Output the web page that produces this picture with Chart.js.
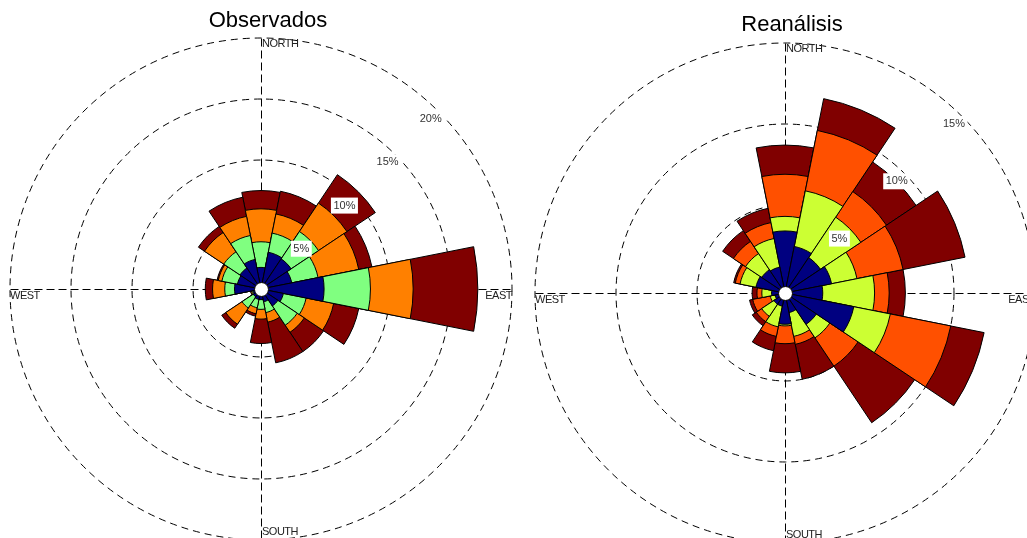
<!DOCTYPE html>
<html>
<head>
    <meta charset="utf-8">
    <title>Rosas de viento</title>
    <script src="https://cdn.jsdelivr.net/npm/chart.js"></script>
    <style>
        html, body {
            margin: 0;
            padding: 0;
            background: #fff;
            overflow: hidden;
        }
        .rose-container {
            position: absolute;
            top: 0;
        }
        #roseObs { left: 0; width: 522px; height: 540px; }
        #roseRea { left: 520px; width: 520px; height: 543px; }
    </style>
</head>
<body>
    <div class="rose-container" id="roseObs"><canvas id="obsChart"></canvas></div>
    <div class="rose-container" id="roseRea"><canvas id="reaChart"></canvas></div>

    <script>
        const directions = ['N', 'NNE', 'NE', 'ENE', 'E', 'ESE', 'SE', 'SSE',
                            'S', 'SSW', 'SW', 'WSW', 'W', 'WNW', 'NW', 'NNW'];
        const speedClasses = ['Clase 1', 'Clase 2', 'Clase 3', 'Clase 4'];

        // Observados: frecuencia (%) de cada clase de velocidad por direccion
        const obsClass1 = [1.2, 2.5, 2.4, 2.0, 4.6, 1.3, 1.1, 0.5, 0.3, 0.3, 0.2, 0.1, 1.6, 1.4, 1.5, 1.9];
        const obsClass2 = [2.1, 1.6, 2.7, 2.2, 3.8, 1.9, 1.9, 0.9, 0.8, 0.7, 1.1, 0.1, 0.8, 1.3, 1.6, 2.0];
        const obsClass3 = [2.7, 1.6, 2.8, 3.4, 3.5, 2.3, 0.7, 0.8, 0.8, 0.5, 1.6, 0.1, 1.0, 0.3, 1.9, 1.6];
        const obsClass4 = [1.5, 1.9, 2.8, 1.1, 5.3, 2.1, 1.9, 3.4, 2.0, 0.2, 0.4, 0.0, 0.6, 0.1, 0.6, 1.6];

        // Reanalisis
        const reaClass1 = [3.4, 2.5, 2.2, 2.5, 1.9, 3.9, 1.9, 0.8, 1.5, 0.4, 0.4, 0.2, 0.4, 1.4, 1.3, 1.2];
        const reaClass2 = [0.9, 3.5, 3.0, 1.6, 3.2, 2.3, 1.0, 1.5, 0.1, 1.3, 0.9, 0.3, 0.6, 1.0, 1.2, 1.8];
        const reaClass3 = [2.6, 3.8, 1.9, 2.9, 0.9, 3.8, 2.1, 0.5, 1.1, 0.6, 0.4, 1.1, 0.3, 0.3, 0.9, 1.0];
        const reaClass4 = [1.8, 2.0, 2.2, 3.9, 1.0, 2.1, 4.2, 2.2, 1.8, 0.9, 0.3, 0.2, 0.3, 0.1, 0.8, 0.9];

        const obsRings = [5, 10, 15, 20];
        const reaRings = [5, 10, 15];

        const obsColors = ['#000080', '#80ff80', '#ff8000', '#800000'];
        const reaColors = ['#000080', '#ccff33', '#ff5000', '#800000'];

        // running totals so each class sits on top of the previous ones
        function cumulative(classes) {
            let run = directions.map(() => 0);
            return classes.map(c => (run = run.map((v, i) => v + c[i])));
        }

        const FONT = '"Liberation Sans", Arial, sans-serif';

        // compass cross, calm circle, ring labels and title
        const roseDecor = {
            id: 'roseDecor',
            beforeDatasetsDraw(chart) {
                const r = chart.scales.r;
                const ctx = chart.ctx;
                const R = r.drawingArea;
                const cx = r.xCenter + 0.5, cy = r.yCenter + 0.5;
                ctx.save();
                ctx.strokeStyle = '#000';
                ctx.lineWidth = 1;
                ctx.setLineDash([8, 4]);
                ctx.beginPath();
                ctx.moveTo(cx, cy - R);
                ctx.lineTo(cx, cy + R);
                ctx.moveTo(cx - R, cy);
                ctx.lineTo(cx + R, cy);
                ctx.stroke();
                ctx.restore();
            },
            afterDatasetsDraw(chart, args, opts) {
                const r = chart.scales.r;
                const ctx = chart.ctx;
                const R = r.drawingArea;
                const cx = r.xCenter, cy = r.yCenter;
                ctx.save();

                // calm circle in the middle
                ctx.beginPath();
                ctx.arc(cx + 0.5, cy + 0.5, r.getDistanceFromCenterForValue(0), 0, Math.PI * 2);
                ctx.fillStyle = '#fff';
                ctx.fill();
                ctx.strokeStyle = '#000';
                ctx.lineWidth = 1;
                ctx.stroke();

                // percentage labels along the NE diagonal
                ctx.font = '11px ' + FONT;
                ctx.textAlign = 'center';
                ctx.textBaseline = 'middle';
                r.ticks.forEach(t => {
                    const d = r.getDistanceFromCenterForValue(t.value) - 11;
                    const x = cx + d * Math.SQRT1_2;
                    const y = cy - d * Math.SQRT1_2;
                    const label = t.value + '%';
                    const w = ctx.measureText(label).width + 5;
                    ctx.fillStyle = '#fff';
                    ctx.fillRect(x - w / 2, y - 8, w, 16);
                    ctx.fillStyle = '#333';
                    ctx.fillText(label, x, y);
                });

                // compass labels
                ctx.letterSpacing = '-0.5px';
                ctx.fillStyle = '#222';
                ctx.textAlign = 'left';
                ctx.textBaseline = 'top';
                ctx.fillText('NORTH', cx + 1, cy - R);
                ctx.fillText('WEST', cx - R, cy + 1);
                ctx.textAlign = 'right';
                ctx.fillText('EAST', cx + R, cy + 1);
                ctx.textAlign = 'left';
                ctx.textBaseline = 'bottom';
                ctx.fillText('SOUTH', cx + 1, cy + R - 3);

                // title
                ctx.letterSpacing = '0px';
                ctx.font = '22px ' + FONT;
                ctx.fillStyle = '#000';
                ctx.textAlign = 'center';
                ctx.textBaseline = 'middle';
                ctx.fillText(opts.title, cx + 7, cy - 268);
                ctx.restore();
            }
        };

        function drawRose(canvasId, title, classes, colors, rings, rMin, rMax, padding) {
            const totals = cumulative(classes);
            new Chart(document.getElementById(canvasId), {
                type: 'polarArea',
                data: {
                    labels: directions,
                    // smallest total first, so it is painted last (on top)
                    datasets: totals.map((vals, i) => ({
                        label: speedClasses[i],
                        data: vals,
                        backgroundColor: colors[i],
                        borderColor: '#000',
                        borderWidth: 1
                    }))
                },
                options: {
                    responsive: true,
                    maintainAspectRatio: false,
                    animation: false,
                    events: [],
                    layout: { padding: padding },
                    plugins: {
                        legend: { display: false },
                        tooltip: { enabled: false },
                        roseDecor: { title: title }
                    },
                    scales: {
                        r: {
                            // negative min leaves room for the calm circle
                            min: rMin,
                            max: rMax,
                            startAngle: -11.25,
                            afterBuildTicks: s => { s.ticks = rings.map(v => ({ value: v })); },
                            ticks: { display: false },
                            grid: { circular: true, color: '#000', lineWidth: 1 },
                            border: { dash: [7, 5] },
                            angleLines: { display: false },
                            pointLabels: { display: false }
                        }
                    }
                },
                plugins: [roseDecor]
            });
        }

        drawRose('obsChart', 'Observados',
                 [obsClass1, obsClass2, obsClass3, obsClass4], obsColors, obsRings,
                 -0.57, 20, { left: 10, right: 10, top: 38, bottom: 0 });

        drawRose('reaChart', 'Reanálisis',
                 [reaClass1, reaClass2, reaClass3, reaClass4], reaColors, reaRings,
                 -0.43, 15, { left: 15, right: 5, top: 43, bottom: 0 });
    </script>
</body>
</html>
